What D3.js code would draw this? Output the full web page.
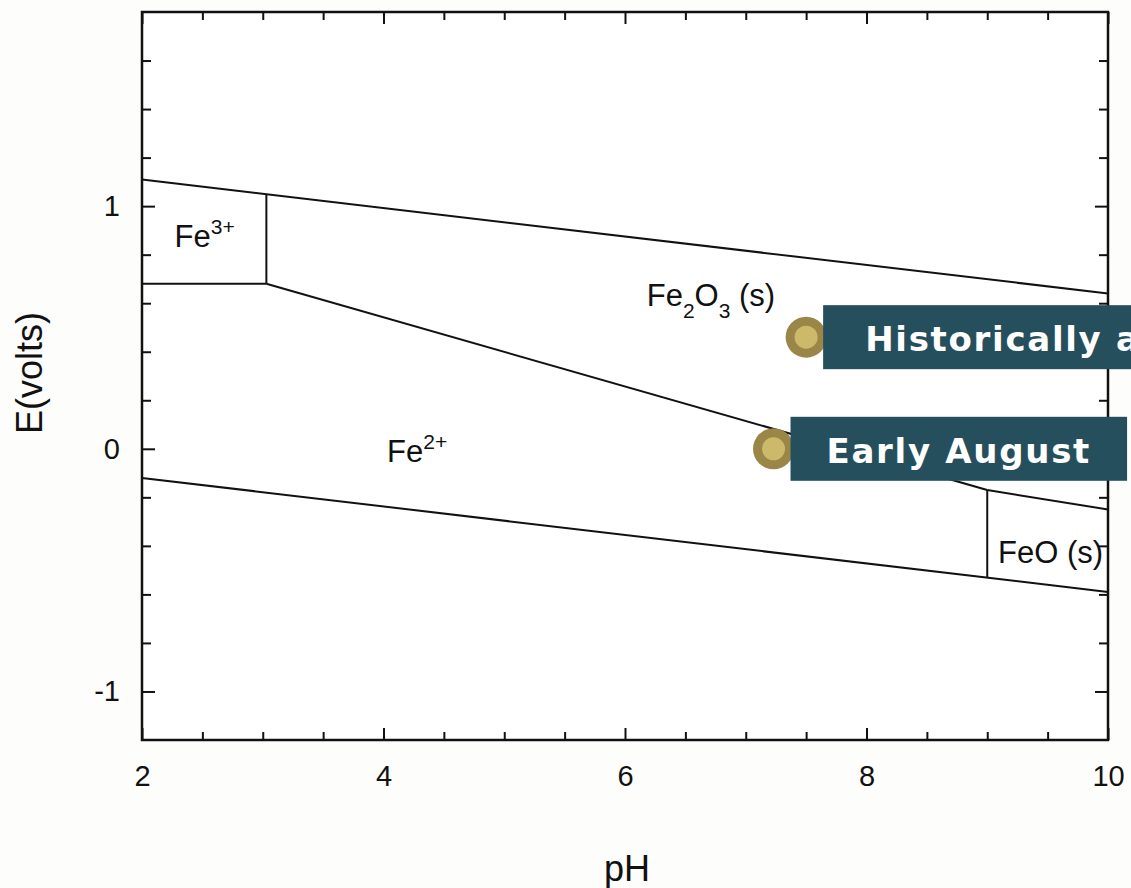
<!DOCTYPE html>
<html>
<head>
<meta charset="utf-8">
<script src="https://cdn.jsdelivr.net/npm/d3@7"></script>
<style>
  body { margin: 0; background: #fdfdfb; }
  svg { display: block; }
</style>
</head>
<body>
<script>
// axis ticks
const xMajorTicks = [2, 4, 6, 8, 10];
const xMinorTicks = [2.5, 3, 3.5, 4.5, 5, 5.5, 6.5, 7, 7.5, 8.5, 9, 9.5];
const yMajorTicks = [-1, 0, 1];
const yMinorTicks = [-0.8, -0.6, -0.4, -0.2, 0.2, 0.4, 0.6, 0.8, 1.2, 1.4, 1.6];

// stability field boundaries [pH, E]
const upperWaterLine = [[2, 1.11], [10, 0.64]];
const fe3Fe2Line = [[2, 0.68], [3.03, 0.68]];
const fe3Fe2o3Line = [[3.03, 0.68], [3.03, 1.05]];
const fe2o3Fe2Line = [[3.03, 0.68], [9, -0.17]];
const fe2o3FeoLine = [[9, -0.17], [10, -0.25]];
const feoFe2Line = [[9, -0.17], [9, -0.53]];
const lowerWaterLine = [[2, -0.12], [10, -0.59]];
const boundaries = [upperWaterLine, fe3Fe2Line, fe3Fe2o3Line, fe2o3Fe2Line,
                    fe2o3FeoLine, feoFe2Line, lowerWaterLine];

// field labels: parts are [text, subscript/superscript/normal]
const fieldLabels = [
  {pH: 2.27, E: 0.83, parts: [["Fe", "n"], ["3+", "sup"]]},
  {pH: 4.03, E: -0.055, parts: [["Fe", "n"], ["2+", "sup"]]},
  {pH: 6.18, E: 0.59, parts: [["Fe", "n"], ["2", "sub"], ["O", "n"], ["3", "sub"], [" (s)", "n"]]},
  {pH: 9.09, E: -0.47, parts: [["FeO (s)", "n"]]}
];

// callouts
const calloutNames = ["Historically a", "Early August"];
const calloutPH = [7.5, 7.23];
const calloutE = [0.46, 0.0];

const width = 1131, height = 888;
const labelFont = "'Liberation Sans', Arial, sans-serif";
const svg = d3.select("body").append("svg")
  .attr("width", width)
  .attr("height", height);

const x = d3.scaleLinear().domain([2, 10]).range([142, 1108]);
const y = d3.scaleLinear().domain([-1.2, 1.8]).range([740, 12]);

svg.append("rect")
  .attr("x", x(2)).attr("y", y(1.8))
  .attr("width", x(10) - x(2)).attr("height", y(-1.2) - y(1.8))
  .attr("fill", "#fff");

function styleAxis(g) {
  g.attr("font-size", 29).attr("font-family", labelFont);
  g.select(".domain").remove();
  g.selectAll(".tick line").attr("stroke", "#111").attr("stroke-width", 2);
  g.selectAll(".tick text").attr("fill", "#111");
}
const fmt = d => String(d);

// bottom / top ticks
svg.append("g").attr("transform", `translate(0,${y(-1.2)})`)
  .call(d3.axisBottom(x).tickValues(xMinorTicks).tickSizeInner(-8).tickSizeOuter(0).tickFormat(""))
  .call(styleAxis);
svg.append("g").attr("transform", `translate(0,${y(-1.2)})`)
  .call(d3.axisBottom(x).tickValues(xMajorTicks).tickSizeInner(-12).tickSizeOuter(0).tickPadding(25).tickFormat(fmt))
  .call(styleAxis);
svg.append("g").attr("transform", `translate(0,${y(1.8)})`)
  .call(d3.axisTop(x).tickValues(xMinorTicks).tickSizeInner(-8).tickSizeOuter(0).tickFormat(""))
  .call(styleAxis);
svg.append("g").attr("transform", `translate(0,${y(1.8)})`)
  .call(d3.axisTop(x).tickValues(xMajorTicks).tickSizeInner(-12).tickSizeOuter(0).tickFormat(""))
  .call(styleAxis);

// left / right ticks
svg.append("g").attr("transform", `translate(${x(2)},0)`)
  .call(d3.axisLeft(y).tickValues(yMinorTicks).tickSizeInner(-9).tickSizeOuter(0).tickFormat(""))
  .call(styleAxis);
svg.append("g").attr("transform", `translate(${x(2)},0)`)
  .call(d3.axisLeft(y).tickValues(yMajorTicks).tickSizeInner(-13).tickSizeOuter(0).tickPadding(22).tickFormat(fmt))
  .call(styleAxis);
svg.append("g").attr("transform", `translate(${x(10)},0)`)
  .call(d3.axisRight(y).tickValues(yMinorTicks).tickSizeInner(-9).tickSizeOuter(0).tickFormat(""))
  .call(styleAxis);
svg.append("g").attr("transform", `translate(${x(10)},0)`)
  .call(d3.axisRight(y).tickValues(yMajorTicks).tickSizeInner(-13).tickSizeOuter(0).tickFormat(""))
  .call(styleAxis);

// frame
svg.append("rect")
  .attr("x", x(2)).attr("y", y(1.8))
  .attr("width", x(10) - x(2)).attr("height", y(-1.2) - y(1.8))
  .attr("fill", "none")
  .attr("stroke", "#111")
  .attr("stroke-width", 2.5);

// boundaries
const line = d3.line().x(d => x(d[0])).y(d => y(d[1]));
svg.append("g").selectAll("path")
  .data(boundaries)
  .join("path")
  .attr("d", line)
  .attr("fill", "none")
  .attr("stroke", "#111")
  .attr("stroke-width", 2);

// field labels
fieldLabels.forEach(l => {
  const t = svg.append("text")
    .attr("x", x(l.pH)).attr("y", y(l.E))
    .attr("font-family", labelFont)
    .attr("font-size", 31)
    .attr("fill", "#111");
  let shift = 0;
  l.parts.forEach(p => {
    let target = p[1] == "sup" ? -13 : p[1] == "sub" ? 12 : 0;
    t.append("tspan")
      .attr("dy", target - shift)
      .attr("font-size", p[1] == "n" ? 31 : 21)
      .text(p[0]);
    shift = target;
  });
});

// axis titles
svg.append("text")
  .attr("x", 627).attr("y", 881)
  .attr("text-anchor", "middle")
  .attr("font-family", labelFont)
  .attr("font-size", 36)
  .attr("fill", "#111")
  .text("pH");
svg.append("text")
  .attr("transform", "translate(42,373) rotate(-90)")
  .attr("text-anchor", "middle")
  .attr("font-family", labelFont)
  .attr("font-size", 36)
  .attr("fill", "#111")
  .text("E(volts)");

// callouts
const pads = [42, 36];
calloutNames.forEach((name, i) => {
  const cx = x(calloutPH[i]), cy = y(calloutE[i]);
  const g = svg.append("g");
  g.append("circle").attr("cx", cx).attr("cy", cy).attr("r", 20.5).attr("fill", "#9a8647");
  g.append("circle").attr("cx", cx).attr("cy", cy).attr("r", 11.5).attr("fill", "#cdb96a");
  const box = g.append("rect")
    .attr("x", cx + 17).attr("y", cy - 32)
    .attr("height", 64)
    .attr("fill", "#264f5e");
  const txt = g.append("text")
    .attr("x", cx + 17 + pads[i]).attr("y", cy + 14)
    .attr("font-family", "'DejaVu Sans', Verdana, sans-serif")
    .attr("font-weight", "bold")
    .attr("font-size", 34)
    .attr("letter-spacing", 1.7)
    .attr("fill", "#fff")
    .text(name);
  box.attr("width", pads[i] * 2 + txt.node().getComputedTextLength());
});
</script>
</body>
</html>
